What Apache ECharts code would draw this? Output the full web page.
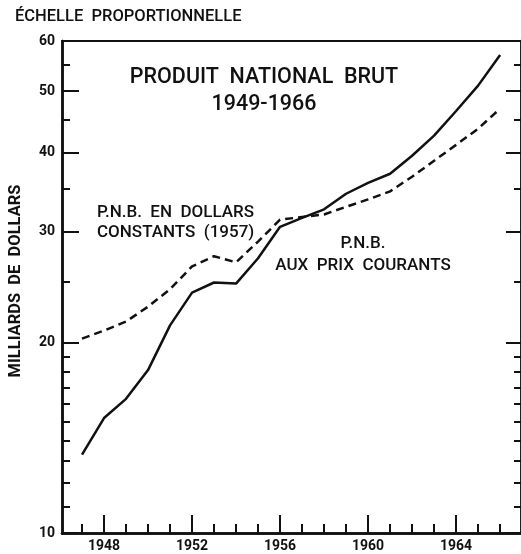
<!DOCTYPE html>
<html>
<head>
<meta charset="utf-8">
<script src="https://cdn.jsdelivr.net/npm/echarts@6/dist/echarts.min.js"></script>
<style>html,body{margin:0;padding:0;background:#fff;}#c{width:521px;height:554px;}</style>
</head>
<body>
<div id="c"></div>
<script>
var years = [1947,1948,1949,1950,1951,1952,1953,1954,1955,1956,1957,1958,1959,1960,1961,1962,1963,1964,1965,1966];
var pnbCourants = [13.3,15.2,16.3,18.1,21.3,24.0,24.9,24.8,27.2,30.5,31.5,32.5,34.4,35.8,37.0,39.5,42.5,46.5,51.0,57.0];
var pnbConstants = [20.3,20.9,21.6,22.8,24.3,26.4,27.4,26.8,28.9,31.3,31.6,31.9,32.8,33.7,34.7,36.6,38.8,41.1,43.6,46.9];
var xMajorTicks = [1948,1952,1956,1960,1964];
var xMinorTicks = years;
var yMajorTicks = [10,20,30,40,50,60];
var yMinorTicks = [11,12,13,14,15,16,17,18,19,25,35,45,55];

var FONT = 'Roboto, "Liberation Sans", Arial, sans-serif';
var ink = '#111';

function pairs(xs, ys){ return xs.map(function(x,i){ return [x, ys[i]]; }); }

var XMIN = 1946.09, XMAX = 1966.95;

function xAx(opts){
  return Object.assign({
    type:'value', min:XMIN, max:XMAX, position:'bottom',
    splitLine:{show:false},
    axisLine:{show:true, lineStyle:{color:ink, width:2.5}},
    axisTick:{show:false},
    axisLabel:{show:false}
  }, opts);
}
function yAx(opts){
  return Object.assign({
    type:'log', logBase:10, min:10, max:60,
    splitLine:{show:false},
    axisLine:{show:true, lineStyle:{color:ink, width:2.5}},
    axisTick:{show:false},
    axisLabel:{show:false}
  }, opts);
}

var chart = echarts.init(document.getElementById('c'), null, {renderer:'canvas'});
chart.setOption({
  backgroundColor:'#fff',
  animation:false,
  grid:{left:62, right:0, top:41, bottom:21, containLabel:false},
  xAxis:[
    xAx({axisTick:{show:true, inside:true, length:9, customValues:xMinorTicks, lineStyle:{color:ink,width:2}}}),
    xAx({axisTick:{show:true, inside:true, length:18, customValues:xMajorTicks, lineStyle:{color:ink,width:2}},
         axisLabel:{show:true, customValues:xMajorTicks, margin:6, color:ink, fontSize:14, fontWeight:'bold', fontFamily:FONT,
                    formatter:function(v){ return String(Math.round(v)); }}}),
    xAx({position:'top', axisLine:{show:true, lineStyle:{color:ink, width:2}}})
  ],
  yAxis:[
    yAx({position:'left', axisTick:{show:true, inside:true, length:8, customValues:yMinorTicks, lineStyle:{color:ink,width:2}}}),
    yAx({position:'left', axisTick:{show:true, inside:true, length:17, customValues:yMajorTicks, lineStyle:{color:ink,width:2}},
         axisLabel:{show:true, customValues:yMajorTicks, margin:7, color:ink, fontSize:14, fontWeight:'bold', fontFamily:FONT,
                    formatter:function(v){ return String(Math.round(v)); }}}),
    yAx({position:'right', axisTick:{show:true, inside:true, length:7, customValues:yMinorTicks, lineStyle:{color:ink,width:2}}}),
    yAx({position:'right', axisTick:{show:true, inside:true, length:15, customValues:yMajorTicks, lineStyle:{color:ink,width:2}}})
  ],
  series:[
    {type:'line', xAxisIndex:0, yAxisIndex:0, data:pairs(years, pnbCourants), symbol:'none', smooth:false,
     lineStyle:{color:ink, width:2.5}},
    {type:'line', xAxisIndex:0, yAxisIndex:0, data:pairs(years, pnbConstants), symbol:'none', smooth:false,
     lineStyle:{color:ink, width:2.5, type:[8,5]}}
  ],
  graphic:[
    {type:'text', x:15, y:17, style:{text:'ÉCHELLE  PROPORTIONNELLE', font:'500 16.5px '+FONT, fill:ink, textAlign:'left', textVerticalAlign:'middle'}},
    {type:'text', x:264, y:78, style:{text:'PRODUIT  NATIONAL  BRUT', font:'500 21.5px '+FONT, fill:ink, textAlign:'center', textVerticalAlign:'middle'}},
    {type:'text', x:264, y:105, style:{text:'1949-1966', font:'500 21.5px '+FONT, fill:ink, textAlign:'center', textVerticalAlign:'middle'}},
    {type:'text', x:97, y:213, style:{text:'P.N.B.  EN  DOLLARS', font:'500 17px '+FONT, fill:ink, textAlign:'left', textVerticalAlign:'middle'}},
    {type:'text', x:97, y:233, style:{text:'CONSTANTS  (1957)', font:'500 17px '+FONT, fill:ink, textAlign:'left', textVerticalAlign:'middle'}},
    {type:'text', x:363, y:244, style:{text:'P.N.B.', font:'500 17px '+FONT, fill:ink, textAlign:'center', textVerticalAlign:'middle'}},
    {type:'text', x:363, y:266, style:{text:'AUX  PRIX  COURANTS', font:'500 17px '+FONT, fill:ink, textAlign:'center', textVerticalAlign:'middle'}},
    {type:'text', x:16, y:281, rotation:Math.PI/2, style:{text:'MILLIARDS  DE  DOLLARS', font:'bold 16.5px '+FONT, fill:ink, textAlign:'center', textVerticalAlign:'middle'}}
  ]
});
</script>
</body>
</html>
